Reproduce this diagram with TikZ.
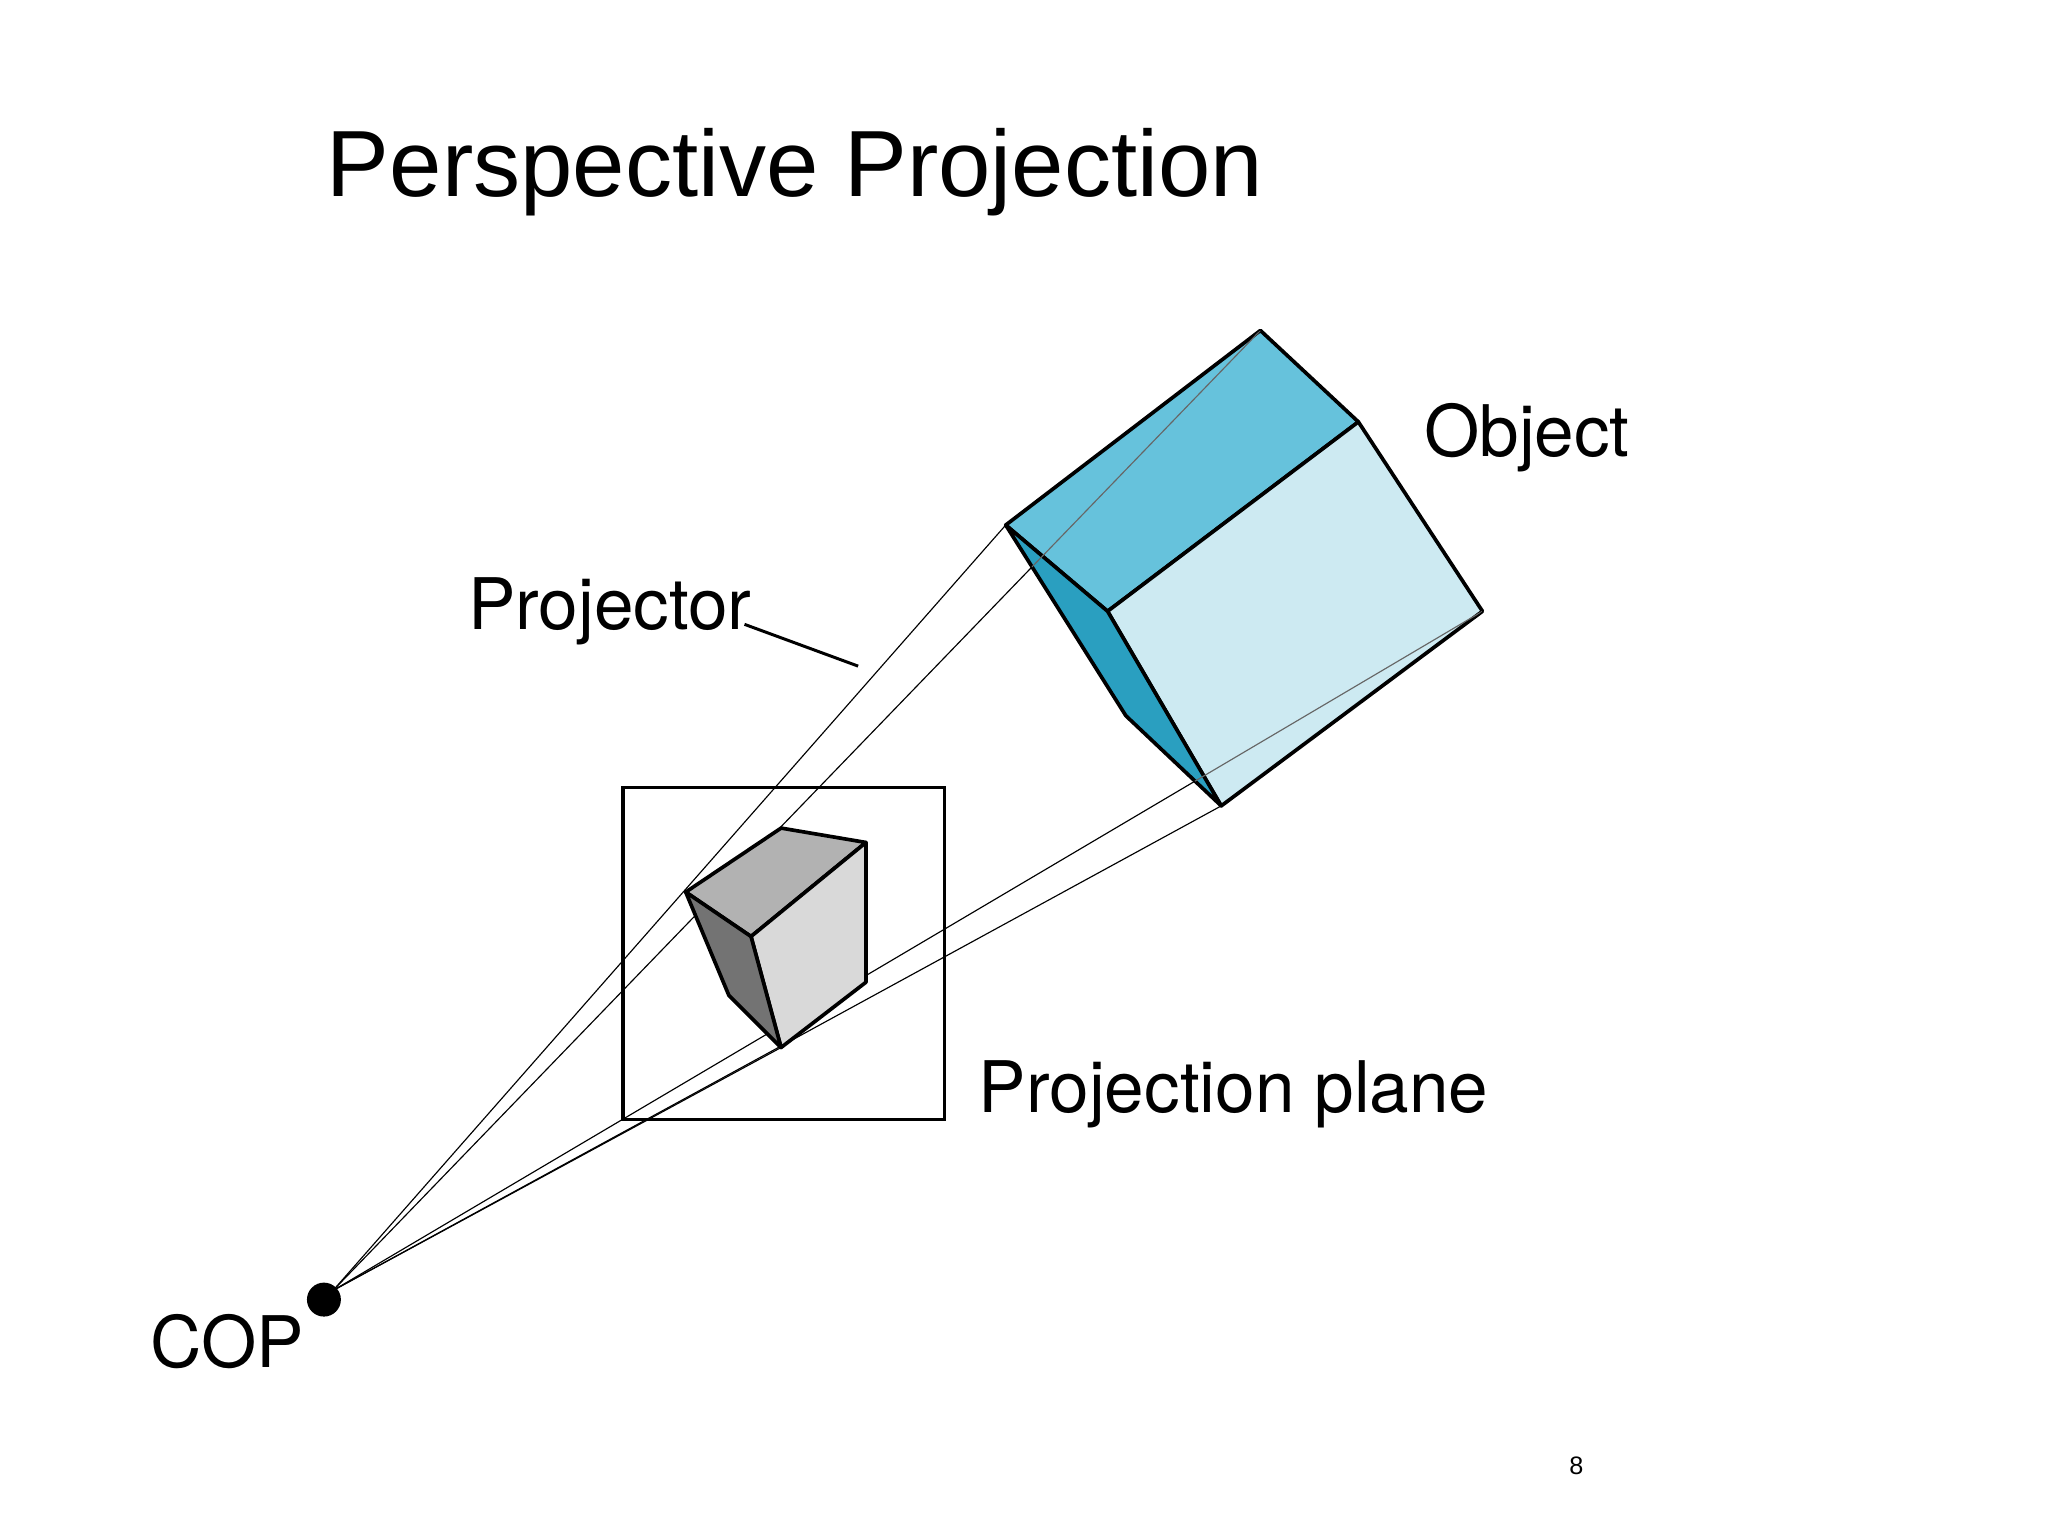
\documentclass[tikz,border=0pt]{standalone}
\usepackage{fontspec}
\setmainfont{Liberation Sans}
\newfontfamily\lbl{TeX Gyre Heros}
\begin{document}
\begin{tikzpicture}[x=0.02cm,y=-0.02cm,
  edge/.style={line width=1.6pt,line join=round},
  proj/.style={line width=0.5pt},
  lab/.style={font=\lbl\fontsize{31}{36}\selectfont,inner sep=0pt}]
\useasboundingbox (0,0) rectangle (1568,1176);
\definecolor{ctop}{HTML}{66C2DC}\definecolor{cfront}{HTML}{CDEAF2}\definecolor{cleft}{HTML}{2A9FC0}
\node[font=\fontsize{41}{46}\selectfont,anchor=west,inner sep=0pt] (title) at (250,132) {Perspective Projection};
% COP
\fill (248,995) circle (13);
\coordinate (cop) at (255,988);
\coordinate (A) at (965,253); \coordinate (B) at (1040,323); \coordinate (C) at (1135,468);
\coordinate (D) at (935,617); \coordinate (E) at (770,402); \coordinate (F) at (848,468); \coordinate (G) at (862,548);
\foreach \p in {A,E,C,D} \draw[proj] (cop) -- (\p);
% plane
\draw[line width=1.6pt] (477,603) rectangle (723,857);
% big cube
\filldraw[edge,fill=ctop] (E) -- (A) -- (B) -- (F) -- cycle;
\filldraw[edge,fill=cfront] (F) -- (B) -- (C) -- (D) -- cycle;
\filldraw[edge,fill=cleft] (E) -- (F) -- (D) -- (G) -- cycle;
\begin{scope}\clip (E) -- (A) -- (B) -- (C) -- (D) -- (G) -- cycle;
\draw[proj,black!60] (cop) -- (A); \draw[proj,black!60] (cop) -- (C);\end{scope}
% small cube
\coordinate (a) at (525,683); \coordinate (b) at (598,634); \coordinate (c) at (663,645);
\coordinate (f) at (575,717); \coordinate (g) at (663,752); \coordinate (h) at (598,802); \coordinate (k) at (558,762);
\filldraw[edge,fill=black!30] (a) -- (b) -- (c) -- (f) -- cycle;
\filldraw[edge,fill=black!15] (f) -- (c) -- (g) -- (h) -- cycle;
\filldraw[edge,fill=black!55] (a) -- (f) -- (h) -- (k) -- cycle;
\draw[proj] (cop) -- (h);
% labels
\node[lab,anchor=west] (plbl) at (358,468) {Projector};
\coordinate (pe) at (657,510);
\coordinate (ps) at (570,478);
\draw[line width=1.3pt] (ps) -- (pe);
\node[lab,anchor=west] (obj) at (1090,335) {Object};
\node[lab,anchor=west] (pp) at (749,838) {Projection plane};
\node[lab,anchor=east] (coplbl) at (233,1027) {COP};
\node[font=\fontsize{11}{13}\selectfont,inner sep=0pt] (pg) at (1207,1122) {8};
\end{tikzpicture}
\end{document}
